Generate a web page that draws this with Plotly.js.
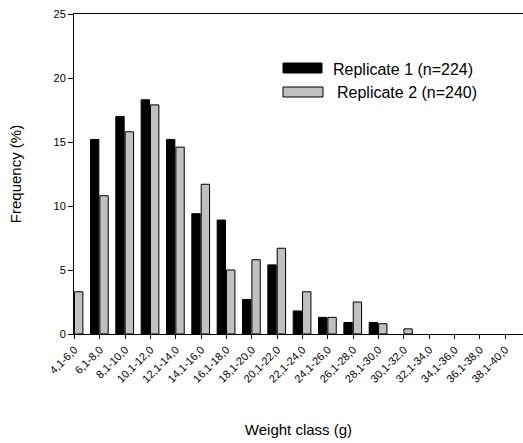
<!DOCTYPE html>
<html>
<head>
<meta charset="utf-8">
<script src="https://cdn.plot.ly/plotly-3.0.1.min.js"></script>
<style>html,body{margin:0;padding:0;background:#fff;}#chart{width:523px;height:443px;}</style>
</head>
<body>
<div id="chart"></div>
<script>
var categories = ["4,1-6,0","6,1-8,0","8,1-10,0","10,1-12,0","12,1-14,0","14,1-16,0","16,1-18,0","18,1-20,0","20,1-22,0","22,1-24,0","24,1-26,0","26,1-28,0","28,1-30,0","30,1-32,0","32,1-34,0","34,1-36,0","36,1-38,0","38,1-40,0"];
var replicate1 = [0, 15.2, 17.0, 18.3, 15.2, 9.4, 8.9, 2.7, 5.4, 1.8, 1.3, 0.9, 0.9, 0, 0, 0, 0, 0];
var replicate2 = [3.3, 10.8, 15.8, 17.9, 14.6, 11.7, 5.0, 5.8, 6.7, 3.3, 1.3, 2.5, 0.8, 0.4, 0, 0, 0, 0];
var seriesNames = ["Replicate 1 (n=224)", "Replicate 2 (n=240)"];
var yTicks = [0, 5, 10, 15, 20, 25];

function hideZero(v) { return v === 0 ? null : v; }
var font = "Liberation Sans, Arial, sans-serif";
var traces = [
  {type: "bar", name: seriesNames[0], x: categories, y: replicate1.map(hideZero), width: 0.33, offset: -0.37,
   marker: {color: "#000000", line: {color: "#000000", width: 1}}, showlegend: false},
  {type: "bar", name: seriesNames[1], x: categories, y: replicate2.map(hideZero), width: 0.33, offset: 0.0,
   marker: {color: "#c0c0c0", line: {color: "#000000", width: 1}}, showlegend: false}
];
var layout = {
  width: 523, height: 443,
  margin: {l: 74, r: 0, t: 14, b: 109},
  paper_bgcolor: "#ffffff", plot_bgcolor: "#ffffff",
  font: {family: font, color: "#000000"},
  barmode: "overlay",
  xaxis: {type: "category", range: [-0.02, 17.7], showgrid: false, zeroline: false,
    showline: true, linecolor: "#000", linewidth: 1, mirror: true,
    ticks: "outside", ticklen: 4, tickcolor: "#000", tickangle: -45,
    tickfont: {size: 11, family: font, color: "#000"},
    title: {text: "Weight class (g)", font: {size: 15, family: font, color: "#000"}, standoff: 40}},
  yaxis: {range: [0, 25], tickvals: yTicks, showgrid: false, zeroline: false,
    showline: true, linecolor: "#000", linewidth: 1,
    ticks: "outside", ticklen: 5, tickcolor: "#000",
    tickfont: {size: 11, family: font, color: "#000"},
    title: {text: "Frequency (%)", font: {size: 15, family: font, color: "#000"}, standoff: 28}},
  shapes: [
    {type: "rect", xref: "paper", yref: "paper", x0: (283-74)/449, x1: (322-74)/449, y0: (334-73)/320, y1: (334-63)/320,
     fillcolor: "#000000", line: {color: "#000", width: 1}},
    {type: "rect", xref: "paper", yref: "paper", x0: (283-74)/449, x1: (323-74)/449, y0: (334-97)/320, y1: (334-87)/320,
     fillcolor: "#c0c0c0", line: {color: "#000", width: 1}}
  ],
  annotations: [
    {xref: "paper", yref: "paper", x: (331-74)/449, y: (334-69)/320, xanchor: "left", yanchor: "middle",
     text: seriesNames[0], showarrow: false, font: {size: 16, family: font, color: "#000"}},
    {xref: "paper", yref: "paper", x: (335-74)/449, y: (334-93)/320, xanchor: "left", yanchor: "middle",
     text: seriesNames[1], showarrow: false, font: {size: 16, family: font, color: "#000"}}
  ]
};
Plotly.newPlot("chart", traces, layout, {displayModeBar: false, staticPlot: true});
</script>
</body>
</html>
